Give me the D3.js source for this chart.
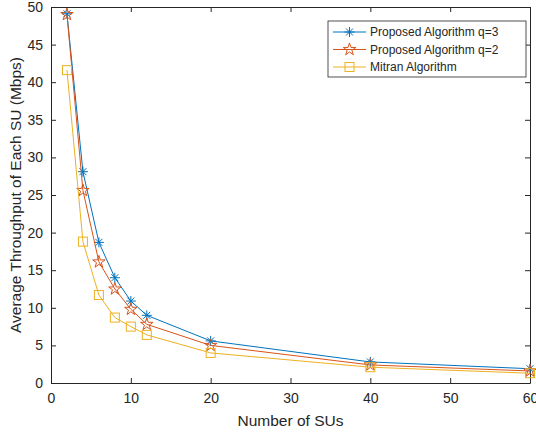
<!DOCTYPE html>
<html lang="en">
<head>
    <meta charset="UTF-8">
    <title>Throughput vs number of SUs</title>
    <script src="https://d3js.org/d3.v7.min.js"></script>
    <style>
        body { margin: 0; background: #fff; }
        text { font-family: "Liberation Sans", Arial, sans-serif; fill: #262626; }
    </style>
</head>
<body>
<div id="chart"></div>
<script>
    // values
    const numSUs = [2, 4, 6, 8, 10, 12, 20, 40, 60];
    const proposedQ3 = [49.1, 28.1, 18.7, 14.0, 10.9, 9.0, 5.6, 2.8, 1.9];
    const proposedQ2 = [49.0, 25.6, 16.1, 12.5, 9.8, 7.8, 5.0, 2.4, 1.6];
    const mitran = [41.6, 18.8, 11.7, 8.7, 7.5, 6.4, 4.0, 2.1, 1.3];
    const xTicks = [0, 10, 20, 30, 40, 50, 60];
    const yTicks = [0, 5, 10, 15, 20, 25, 30, 35, 40, 45, 50];
    const seriesNames = ["Proposed Algorithm q=3", "Proposed Algorithm q=2", "Mitran Algorithm"];

    const width = 536, height = 434;
    const margin = {left: 51, right: 6, top: 7, bottom: 51};
    const colors = ["#0072BD", "#D95319", "#EDB120"];
    const markers = ["asterisk", "star", "square"];

    const svg = d3.select("#chart").append("svg")
        .attr("width", width)
        .attr("height", height);

    const x = d3.scaleLinear().domain([0, 60]).range([margin.left, width - margin.right]);
    const y = d3.scaleLinear().domain([0, 50]).range([height - margin.bottom, margin.top]);

    // axes with inward ticks, box style
    const axisColor = "#262626";
    function styleAxis(g) {
        g.selectAll("path").attr("stroke", axisColor);
        g.selectAll("line").attr("stroke", axisColor);
        g.selectAll("text").attr("font-size", 14).attr("fill", axisColor);
    }
    svg.append("g")
        .attr("transform", `translate(0,${y(0)})`)
        .call(d3.axisBottom(x).tickValues(xTicks).tickSizeInner(-5).tickSizeOuter(0).tickPadding(10))
        .call(styleAxis);
    svg.append("g")
        .attr("transform", `translate(${x(0)},0)`)
        .call(d3.axisLeft(y).tickValues(yTicks).tickSizeInner(-5).tickSizeOuter(0).tickPadding(8))
        .call(styleAxis);
    svg.append("g")
        .attr("transform", `translate(0,${y(50)})`)
        .call(d3.axisTop(x).tickValues(xTicks).tickSizeInner(-5).tickSizeOuter(0).tickFormat(""))
        .call(styleAxis);
    svg.append("g")
        .attr("transform", `translate(${x(60)},0)`)
        .call(d3.axisRight(y).tickValues(yTicks).tickSizeInner(-5).tickSizeOuter(0).tickFormat(""))
        .call(styleAxis);

    // axis titles
    svg.append("text")
        .attr("x", (x(0) + x(60)) / 2)
        .attr("y", height - 8)
        .attr("text-anchor", "middle")
        .attr("font-size", 15.5)
        .text("Number of SUs");
    svg.append("text")
        .attr("transform", `translate(21,${(y(0) + y(50)) / 2}) rotate(-90)`)
        .attr("text-anchor", "middle")
        .attr("font-size", 15.5)
        .text("Average Throughput of Each SU (Mbps)");

    function drawMarker(g, type, color) {
        if (type === "asterisk") {
            const r = 5;
            g.append("path")
                .attr("d", `M${-r},0H${r}M0,${-r}V${r}M${-r * 0.7},${-r * 0.7}L${r * 0.7},${r * 0.7}M${-r * 0.7},${r * 0.7}L${r * 0.7},${-r * 0.7}`)
                .attr("stroke", color).attr("stroke-width", 1).attr("fill", "none");
        } else if (type === "star") {
            g.append("path")
                .attr("d", d3.symbol(d3.symbolStar, 48)())
                .attr("stroke", color).attr("stroke-width", 1).attr("fill", "none");
        } else {
            g.append("rect")
                .attr("x", -4.5).attr("y", -4.5).attr("width", 9).attr("height", 9)
                .attr("stroke", color).attr("stroke-width", 1).attr("fill", "none");
        }
    }

    const line = d3.line().x((d, i) => x(numSUs[i])).y(d => y(d));
    const allSeries = [proposedQ3, proposedQ2, mitran];

    allSeries.forEach((vals, k) => {
        svg.append("path")
            .datum(vals)
            .attr("d", line)
            .attr("fill", "none")
            .attr("stroke", colors[k])
            .attr("stroke-width", 1);
        vals.forEach((v, i) => {
            const g = svg.append("g").attr("transform", `translate(${x(numSUs[i])},${y(v)})`);
            drawMarker(g, markers[k], colors[k]);
        });
    });

    // legend
    const legend = svg.append("g").attr("transform", "translate(328,21)");
    legend.append("rect")
        .attr("width", 198).attr("height", 56)
        .attr("fill", "#fff").attr("stroke", axisColor).attr("stroke-width", 0.8);
    seriesNames.forEach((name, k) => {
        const yy = 11 + k * 17.5;
        legend.append("line")
            .attr("x1", 5).attr("x2", 38).attr("y1", yy).attr("y2", yy)
            .attr("stroke", colors[k]).attr("stroke-width", 1);
        drawMarker(legend.append("g").attr("transform", `translate(21.5,${yy})`), markers[k], colors[k]);
        legend.append("text")
            .attr("x", 42).attr("y", yy + 4)
            .attr("font-size", 12)
            .text(name);
    });
</script>
</body>
</html>
